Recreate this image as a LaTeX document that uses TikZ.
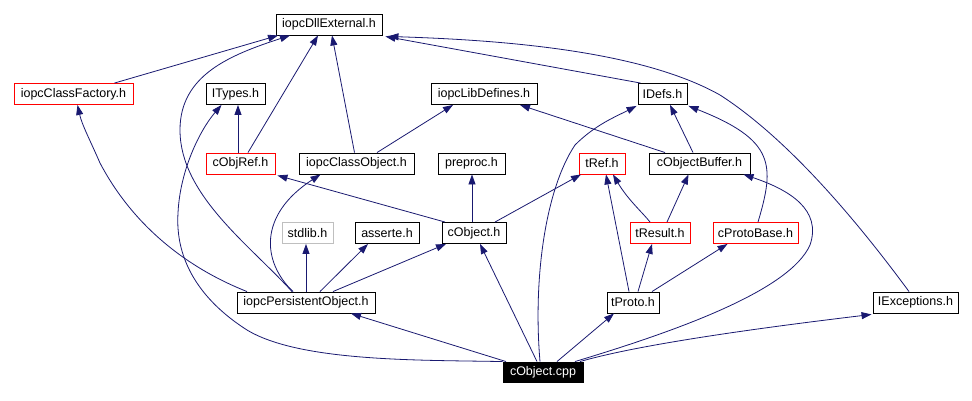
\documentclass[tikz,border=0pt]{standalone}
\usepackage{fontspec}
\setmainfont{Liberation Sans}
\usetikzlibrary{arrows.meta,calc}
\definecolor{navy}{RGB}{25,25,112}
\definecolor{lgray}{RGB}{191,191,191}
\begin{document}
\begin{tikzpicture}[x=1pt,y=-1pt,
 box/.style={draw=black,line width=0.9pt,inner sep=0pt,minimum height=21pt,font=\fontsize{12.5}{14}\selectfont},
 redbox/.style={box,draw=red},
 graybox/.style={box,draw=lgray},
 srcbox/.style={box,fill=black,text=white,minimum height=20pt},
 dep/.style={draw=navy,line width=0.8pt,-{Triangle[length=10pt,width=7pt]}}]
\useasboundingbox (0,0) rectangle (972,401);
% nodes
\node[box,minimum width=106pt] (dll) at (329,24.5) {iopcDllExternal.h};
\node[redbox,minimum width=119pt] (cf) at (73.5,94) {iopcClassFactory.h};
\node[box,minimum width=59pt] (types) at (235.5,94) {ITypes.h};
\node[box,minimum width=106pt] (libdef) at (484,94) {iopcLibDefines.h};
\node[box,minimum width=49pt] (idefs) at (662.5,94) {IDefs.h};
\node[redbox,minimum width=69pt] (objref) at (240.5,163.5) {cObjRef.h};
\node[box,minimum width=115pt] (classobj) at (356.5,163.5) {iopcClassObject.h};
\node[box,minimum width=67pt] (preproc) at (471.5,163.5) {preproc.h};
\node[redbox,minimum width=46pt] (tref) at (602,163.5) {tRef.h};
\node[box,minimum width=101pt] (buffer) at (699.5,163.5) {cObjectBuffer.h};
\node[graybox,minimum width=51pt] (stdlib) at (307.5,233) {stdlib.h};
\node[box,minimum width=64pt] (asserte) at (387,233) {asserte.h};
\node[box,minimum width=64pt] (cobjh) at (474,233) {cObject.h};
\node[redbox,minimum width=60pt] (tresult) at (660,233) {tResult.h};
\node[redbox,minimum width=85pt] (protobase) at (755.5,233) {cProtoBase.h};
\node[box,minimum width=138pt] (persist) at (306,302.5) {iopcPersistentObject.h};
\node[box,minimum width=52pt] (tproto) at (633,302.5) {tProto.h};
\node[box,minimum width=85pt] (iexc) at (915.5,302.5) {IExceptions.h};
\node[srcbox,minimum width=80pt] (cpp) at (543,372) {cObject.cpp};
% connectors
\draw[dep] ([xshift=41pt]cf.north) -- ([xshift=-51pt]dll.south);
\draw[dep] ([xshift=-14pt]persist.north) .. controls (250,245) and (180,195) .. (180,130) .. controls (180,75) and (230,55) .. ([xshift=-39pt]dll.south);
\draw[dep] ([xshift=7.5pt]objref.north) -- ([xshift=-11pt]dll.south);
\draw[dep] ([xshift=-2.5pt]objref.north) -- ([xshift=2.5pt]types.south);
\draw[dep] ([xshift=-2pt]classobj.north) -- ([xshift=3pt]dll.south);
\draw[dep] ([xshift=20.5pt]classobj.north) -- ([xshift=-31pt]libdef.south);
\draw[dep] ([xshift=-22pt]idefs.north) -- ($(dll.south east)+(3,1)$);
\draw[dep] ([xshift=-6.5pt]iexc.north) .. controls (860,225) and (790,140) .. (720,95) .. controls (640,50) and (500,40) .. ($(dll.south east)+(6,1)$);
\draw[dep] ([xshift=-3pt]cpp.north) .. controls (533,280) and (545,190) .. (575,145) .. controls (595,125) and (615,117) .. ($(idefs.south west)+(-1,1)$);
\draw[dep] ([xshift=-6.5pt]buffer.north) -- ([xshift=7.5pt]idefs.south);
\draw[dep] ([xshift=2.5pt]protobase.north) .. controls (775,165) and (775,140) .. ($(idefs.south east)+(1,1)$);
\draw[dep] ([xshift=-34.5pt]buffer.north) -- ([xshift=36pt]libdef.south);
\draw[dep] ([xshift=-29pt]cobjh.north) -- ($(objref.south east)+(2,1)$);
\draw[dep] ([xshift=-2pt]cobjh.north) -- ([xshift=0.5pt]preproc.south);
\draw[dep] ([xshift=21pt]cobjh.north) -- ([xshift=-21pt]tref.south);
\draw[dep] ([xshift=-13pt]persist.north) .. controls (262,262) and (258,215) .. ([xshift=-36pt]classobj.south);
\draw[dep] (persist.north) -- ([xshift=-1.5pt]stdlib.south);
\draw[dep] ([xshift=14pt]persist.north) -- ([xshift=-19pt]asserte.south);
\draw[dep] ([xshift=27pt]persist.north) -- ([xshift=-28pt]cobjh.south);
\draw[dep] ([xshift=-37pt]cpp.north) -- ([xshift=45pt]persist.south);
\draw[dep] (cpp.north west) .. controls (420,360) and (300,362) .. (247,330) .. controls (200,300) and (175,260) .. (178,213) .. controls (180,170) and (200,130) .. ([xshift=-14pt]types.south);
\draw[dep] ([xshift=-59pt]persist.north) .. controls (180,265) and (130,220) .. (100,163) .. controls (90,140) and (82,125) .. ([xshift=4pt]cf.south);
\draw[dep] ([xshift=-4pt]tproto.north) -- ([xshift=4pt]tref.south);
\draw[dep] ([xshift=5pt]tproto.north) -- ([xshift=-8pt]tresult.south);
\draw[dep] ([xshift=19pt]tproto.north) -- ([xshift=-28pt]protobase.south);
\draw[dep] ([xshift=-10pt]tresult.north) .. controls (644,214) and (628,200) .. ([xshift=11pt]tref.south);
\draw[dep] ([xshift=7pt]tresult.north) -- ([xshift=-11pt]buffer.south);
\draw[dep] ([xshift=-6pt]cpp.north) -- ([xshift=6pt]cobjh.south);
\draw[dep] ([xshift=14pt]cpp.north) -- ([xshift=-19pt]tproto.south);
\draw[dep] ([xshift=32pt]cpp.north) .. controls (680,330) and (790,290) .. (810,245) .. controls (822,210) and (790,190) .. ([xshift=44pt]buffer.south);
\draw[dep] ([xshift=37pt]cpp.north) .. controls (620,350) and (700,335) .. ($(iexc.south west)+(-1,1)$);
\end{tikzpicture}
\end{document}
